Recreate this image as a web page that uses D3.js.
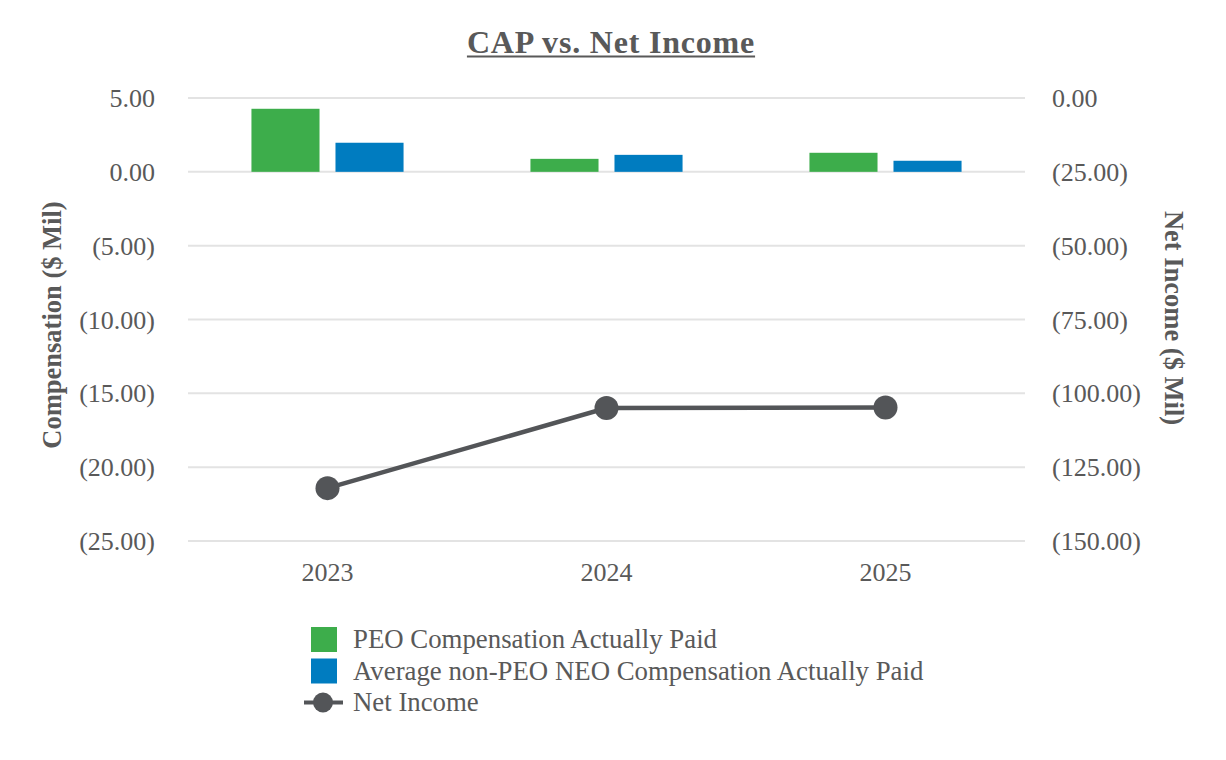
<!DOCTYPE html>
<html>
<head>
<meta charset="utf-8">
<script src="https://cdn.jsdelivr.net/npm/d3@7"></script>
<style>
  html, body { margin: 0; padding: 0; background: #fff; }
  svg text { font-family: "Liberation Serif", "Times New Roman", serif; fill: #595959; }
</style>
</head>
<body>
<svg id="chart" width="1226" height="760"></svg>
<script>
const years = ["2023", "2024", "2025"];
const peoCap = [4.27, 0.88, 1.29];
const neoCap = [1.97, 1.15, 0.75];
const netIncome = [-132.1, -105.0, -104.8];
const leftTicks = [5, 0, -5, -10, -15, -20, -25];
const rightTicks = [0, -25, -50, -75, -100, -125, -150];
const seriesNames = ["PEO Compensation Actually Paid", "Average non-PEO NEO Compensation Actually Paid", "Net Income"];
const barColors = ["#3dad4b", "#007cc0"];
const lineColor = "#535558";

const svg = d3.select("#chart");
const plotL = 188, plotR = 1025, plotT = 98, plotB = 541;

const x0 = d3.scaleBand().domain(years).range([plotL, plotR]);
const x1 = d3.scaleBand().domain([0, 1]).range([0, x0.bandwidth()])
  .paddingInner(0.19).paddingOuter(0.755);
const yL = d3.scaleLinear().domain([-25, 5]).range([plotB, plotT]);
const yR = d3.scaleLinear().domain([-150, 0]).range([plotB, plotT]);

const fmt = v => v < 0 ? "(" + d3.format(".2f")(-v) + ")" : d3.format(".2f")(v);

// gridlines
svg.append("g").selectAll("line").data(leftTicks).enter().append("line")
  .attr("x1", plotL).attr("x2", plotR)
  .attr("y1", d => yL(d)).attr("y2", d => yL(d))
  .attr("stroke", "#e3e3e3").attr("stroke-width", 2);

// left axis labels
const axL = svg.append("g").attr("transform", `translate(${plotL - 33},0)`)
  .call(d3.axisLeft(yL).tickValues(leftTicks).tickFormat(fmt).tickSize(0).tickPadding(0));
axL.select(".domain").remove();
axL.selectAll("text").attr("font-size", 26).attr("dy", "0.33em");

// right axis labels
const axR = svg.append("g").attr("transform", `translate(${plotR + 27},0)`)
  .call(d3.axisRight(yR).tickValues(rightTicks).tickFormat(fmt).tickSize(0).tickPadding(0));
axR.select(".domain").remove();
axR.selectAll("text").attr("font-size", 26).attr("dy", "0.33em");

// x axis labels
const axX = svg.append("g").attr("transform", `translate(0,${plotB + 31})`)
  .call(d3.axisBottom(x0).tickSize(0).tickPadding(0));
axX.select(".domain").remove();
axX.selectAll("text").attr("font-size", 26).attr("dy", "0.35em");

svg.selectAll("g text").attr("fill", "#595959")
  .style("font-family", '"Liberation Serif", "Times New Roman", serif');

// bars
[peoCap, neoCap].forEach((vals, s) => {
  svg.append("g").selectAll("rect").data(vals).enter().append("rect")
    .attr("x", (d, i) => x0(years[i]) + x1(s))
    .attr("width", x1.bandwidth())
    .attr("y", d => yL(Math.max(d, 0)))
    .attr("height", d => Math.abs(yL(d) - yL(0)))
    .attr("fill", barColors[s]);
});

// net income line
const line = d3.line()
  .x((d, i) => x0(years[i]) + x0.bandwidth() / 2)
  .y(d => yR(d));
svg.append("path").datum(netIncome).attr("d", line)
  .attr("fill", "none").attr("stroke", lineColor).attr("stroke-width", 4.5);
svg.append("g").selectAll("circle").data(netIncome).enter().append("circle")
  .attr("cx", (d, i) => x0(years[i]) + x0.bandwidth() / 2)
  .attr("cy", d => yR(d))
  .attr("r", 12).attr("fill", lineColor);

// title
const title = svg.append("text").attr("x", 611).attr("y", 53)
  .attr("text-anchor", "middle").attr("font-size", 32).attr("font-weight", "bold")
  .attr("letter-spacing", 0.8).text("CAP vs. Net Income");
const tb = title.node().getBBox();
svg.append("line").attr("x1", tb.x).attr("x2", tb.x + tb.width)
  .attr("y1", 56.5).attr("y2", 56.5).attr("stroke", "#595959").attr("stroke-width", 2);

// axis titles
svg.append("text").attr("transform", "translate(61,325) rotate(-90)")
  .attr("text-anchor", "middle").attr("font-size", 26.5).attr("font-weight", "bold")
  .text("Compensation ($ Mil)");
svg.append("text").attr("transform", "translate(1165,318) rotate(90)")
  .attr("text-anchor", "middle").attr("font-size", 26.5).attr("font-weight", "bold")
  .text("Net Income ($ Mil)");

// legend
const lg = svg.append("g").attr("transform", "translate(311,627)");
seriesNames.forEach((name, i) => {
  const g = lg.append("g").attr("transform", `translate(0,${i * 31.5})`);
  if (i < 2) {
    g.append("rect").attr("width", 26).attr("height", 25).attr("fill", barColors[i]);
  } else {
    g.append("line").attr("x1", -7).attr("x2", 32).attr("y1", 12.5).attr("y2", 12.5)
      .attr("stroke", lineColor).attr("stroke-width", 4);
    g.append("circle").attr("cx", 12).attr("cy", 12.5).attr("r", 10).attr("fill", lineColor);
  }
  g.append("text").attr("x", 42).attr("y", 21).attr("font-size", 26.8).text(name);
});
</script>
</body>
</html>
